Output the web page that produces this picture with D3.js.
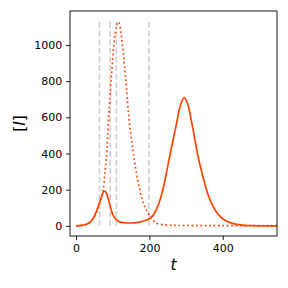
<!DOCTYPE html>
<html lang="en">
<head>
    <meta charset="UTF-8" />
    <script src="https://d3js.org/d3.v7.min.js"></script>
    <title>[I] over t</title>
    <style>
        body { margin: 0; background: #fff; }
    </style>
</head>
<body>
    <script>
        // solid curve
        var tSolid = [0, 14, 28, 38, 46, 53, 60, 65, 69, 74, 78, 82, 86, 90, 95, 101, 110, 119, 135, 150, 165, 180, 192, 201, 210, 220, 230, 240, 255, 265, 274, 285, 295, 305, 316, 333, 345, 360, 374, 390, 401, 420, 446, 480, 548];
        var iSolid = [0, 3, 9, 20, 41, 68, 105, 135, 160, 185, 192, 185, 163, 133, 95, 59, 33, 22, 17, 16, 18, 24, 32, 41, 58, 95, 150, 230, 381, 480, 565, 670, 709, 670, 565, 381, 280, 172, 105, 58, 38, 18, 6, 1, 0];

        // dotted curve
        var tDotted = [0, 28, 46, 60, 69, 74, 79, 84, 89, 96, 103, 108, 112, 115, 118, 122, 126, 135, 144, 155, 164, 174, 183, 192, 200, 209, 219, 235, 260, 300, 400, 548];
        var iDotted = [0, 8, 38, 98, 155, 197, 300, 418, 603, 815, 1000, 1080, 1118, 1127, 1120, 1075, 1008, 823, 603, 418, 300, 197, 130, 87, 58, 35, 15, 7, 3, 2, 1, 1];

        // grey dashed markers
        var tMarks = [64, 93, 110, 199];

        var xTicks = [0, 200, 400];
        var yTicks = [0, 200, 400, 600, 800, 1000];

        var width = 288, height = 288;
        var margin = { left: 70, right: 11, top: 11, bottom: 52 };

        var svg = d3.select("body").append("svg")
            .attr("width", width)
            .attr("height", height);

        var x = d3.scaleLinear().domain([-16.5, 548]).range([margin.left, width - margin.right]);
        var y = d3.scaleLinear().domain([-56, 1188]).range([height - margin.bottom, margin.top]);

        var peak = d3.max(iDotted);

        svg.append("g").selectAll("line").data(tMarks)
            .enter().append("line")
            .attr("x1", d => x(d)).attr("x2", d => x(d))
            .attr("y1", y(0)).attr("y2", y(peak))
            .attr("stroke", "#cfcfcf")
            .attr("stroke-width", 1.6)
            .attr("stroke-dasharray", "6,2.6");

        var line = d3.line()
            .x(d => x(d[0]))
            .y(d => y(d[1]))
            .curve(d3.curveCatmullRom.alpha(0.5));

        svg.append("path")
            .attr("d", line(d3.zip(tDotted, iDotted)))
            .attr("fill", "none")
            .attr("stroke", "orangered")
            .attr("stroke-width", 1.7)
            .attr("stroke-dasharray", "1.7,2.7");

        svg.append("path")
            .attr("d", line(d3.zip(tSolid, iSolid)))
            .attr("fill", "none")
            .attr("stroke", "orangered")
            .attr("stroke-width", 1.7);

        // frame
        svg.append("rect")
            .attr("x", margin.left).attr("y", margin.top)
            .attr("width", width - margin.left - margin.right)
            .attr("height", height - margin.top - margin.bottom)
            .attr("fill", "none")
            .attr("stroke", "#000")
            .attr("stroke-width", 0.9);

        var xAxis = svg.append("g")
            .attr("transform", "translate(0," + (height - margin.bottom) + ")")
            .call(d3.axisBottom(x).tickValues(xTicks).tickFormat(d3.format("d"))
                .tickSize(3.9).tickSizeOuter(0).tickPadding(3.9));

        var yAxis = svg.append("g")
            .attr("transform", "translate(" + margin.left + ",0)")
            .call(d3.axisLeft(y).tickValues(yTicks).tickFormat(d3.format("d"))
                .tickSize(3.9).tickSizeOuter(0).tickPadding(3.9));

        [xAxis, yAxis].forEach(function (g) {
            g.select(".domain").remove();
            g.selectAll(".tick line").attr("stroke", "#000").attr("stroke-width", 0.9);
            g.selectAll(".tick text")
                .attr("fill", "#000")
                .style("font-family", "DejaVu Sans")
                .style("font-size", "11px");
        });

        svg.append("text")
            .attr("x", (margin.left + width - margin.right) / 2)
            .attr("y", 270)
            .attr("text-anchor", "middle")
            .style("font-family", "DejaVu Sans")
            .style("font-style", "italic")
            .style("font-size", "15.5px")
            .text("t");

        var yLabel = svg.append("text")
            .attr("transform", "translate(25," + ((margin.top + height - margin.bottom) / 2) + ") rotate(-90)")
            .attr("text-anchor", "middle")
            .style("font-family", "DejaVu Sans")
            .style("font-size", "15.5px");
        yLabel.append("tspan").text("[");
        yLabel.append("tspan").style("font-style", "italic").text("I");
        yLabel.append("tspan").text("]");
    </script>
</body>
</html>
